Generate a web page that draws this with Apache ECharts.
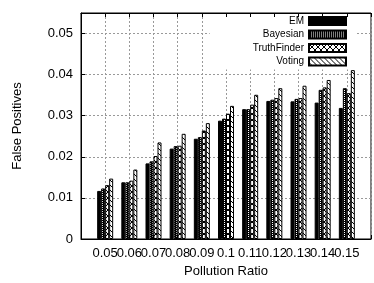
<!DOCTYPE html>
<html lang="en">
<head>
<meta charset="UTF-8">
<title>False Positives vs Pollution Ratio</title>
<script src="https://cdn.jsdelivr.net/npm/echarts@6/dist/echarts.min.js"></script>
<style>
  html, body { margin: 0; padding: 0; background: #fff; }
  #main { width: 374px; height: 283px; }
</style>
</head>
<body>
<div id="main"></div>
<script>
// data
var ratios = ['0.05', '0.06', '0.07', '0.08', '0.09', '0.1', '0.11', '0.12', '0.13', '0.14', '0.15'];
var seriesNames = ['EM', 'Bayesian', 'TruthFinder', 'Voting'];
var emValues = [0.0117, 0.0138, 0.0184, 0.0220, 0.0244, 0.0288, 0.0316, 0.0336, 0.0335, 0.0332, 0.0319];
var bayesValues = [0.0123, 0.0138, 0.0189, 0.0226, 0.0248, 0.0293, 0.0316, 0.0339, 0.0341, 0.0363, 0.0367];
var truthValues = [0.0131, 0.0142, 0.0202, 0.0227, 0.0264, 0.0305, 0.0327, 0.0343, 0.0343, 0.0369, 0.0355];
var votingValues = [0.0147, 0.0169, 0.0235, 0.0256, 0.0282, 0.0324, 0.0351, 0.0367, 0.0373, 0.0387, 0.0411];

var myChart = echarts.init(document.getElementById('main'));

// small canvas fill patterns, like the gnuplot ones
function makePattern(kind) {
    var size = kind == 'diag' ? 5 : (kind == 'cross' ? 6 : 4);
    var c = document.createElement('canvas');
    c.width = size;
    c.height = size;
    var ctx = c.getContext('2d');
    if (kind == 'dots') {
        // dark with staggered white dots
        ctx.fillStyle = '#000';
        ctx.fillRect(0, 0, size, size);
        ctx.fillStyle = '#fff';
        ctx.fillRect(0, 0, 1, 1);
        ctx.fillRect(2, 1, 1, 1);
        ctx.fillRect(0, 2, 1, 1);
        ctx.fillRect(2, 3, 1, 1);
        return { image: c, repeat: 'repeat' };
    }
    ctx.fillStyle = '#fff';
    ctx.fillRect(0, 0, size, size);
    ctx.fillStyle = '#000';
    for (var i = 0; i < size; i++) {
        ctx.fillRect(i, i, 1, 1);
        if (kind == 'cross') ctx.fillRect(size - 1 - i, i, 1, 1);
    }
    return { image: c, repeat: 'repeat' };
}

var fills = ['#000', makePattern('dots'), makePattern('cross'), makePattern('diag')];
var allValues = [emValues, bayesValues, truthValues, votingValues];

var series = seriesNames.map(function (name, k) {
    return {
        name: name,
        type: 'bar',
        barWidth: 4,
        barGap: '0%',
        data: allValues[k].map(function (v, i) { return [i, v]; }),
        itemStyle: { color: fills[k], borderColor: '#000', borderWidth: 1 },
        emphasis: { disabled: true }
    };
});

var font = 'Liberation Sans, Arial, Helvetica, sans-serif';

var option = {
    animation: false,
    textStyle: { fontFamily: font },
    grid: {
        left: 81, top: 13, width: 299.4, height: 227,
        show: true, borderColor: '#000', borderWidth: 1, backgroundColor: 'transparent'
    },
    legend: {
        data: seriesNames,
        orient: 'vertical',
        right: 18,
        top: 15,
        align: 'right',
        icon: 'rect',
        itemWidth: 37,
        itemHeight: 8,
        itemGap: 3.5,
        padding: [1, 9, 3, 43],
        backgroundColor: '#fff',
        selectedMode: false,
        textStyle: { fontSize: 10, lineHeight: 8, color: '#000', fontFamily: font }
    },
    xAxis: [{
        type: 'value',
        min: -1,
        max: 11,
        interval: 1,
        position: 'bottom',
        name: 'Pollution Ratio',
        nameLocation: 'middle',
        nameGap: 26,
        nameTextStyle: { fontSize: 13, color: '#000' },
        axisLine: { show: true, onZero: false, lineStyle: { color: '#000' } },
        axisTick: { inside: true, length: 4, lineStyle: { color: '#000' } },
        axisLabel: {
            fontSize: 13, color: '#000', margin: 8,
            formatter: function (v) { return ratios[Math.round(v)] || ''; }
        },
        splitLine: { show: true, lineStyle: { color: '#999', type: [2, 2] } }
    }, {
        type: 'value',
        min: -1,
        max: 11,
        interval: 1,
        position: 'top',
        z: 5,
        axisLine: { show: true, onZero: false, lineStyle: { color: '#000' } },
        axisTick: { inside: true, length: 4, lineStyle: { color: '#000' } },
        axisLabel: { show: false },
        splitLine: { show: false }
    }],
    yAxis: {
        type: 'value',
        min: 0,
        max: 0.055,
        interval: 0.01,
        name: 'False Positives',
        nameLocation: 'middle',
        nameGap: 57,
        nameTextStyle: { fontSize: 13, color: '#000' },
        axisLine: { show: true, onZero: false, lineStyle: { color: '#000' } },
        axisTick: { inside: true, length: 4, lineStyle: { color: '#000' } },
        axisLabel: {
            fontSize: 13, color: '#000', margin: 8, showMaxLabel: false,
            formatter: function (v) {
                var h = v * 100;
                if (Math.abs(h - Math.round(h)) > 1e-6) return '';
                return v == 0 ? '0' : v.toFixed(2);
            }
        },
        splitLine: { show: true, lineStyle: { color: '#999', type: [2, 2] } }
    },
    series: series
};

myChart.setOption(option);
</script>
</body>
</html>
